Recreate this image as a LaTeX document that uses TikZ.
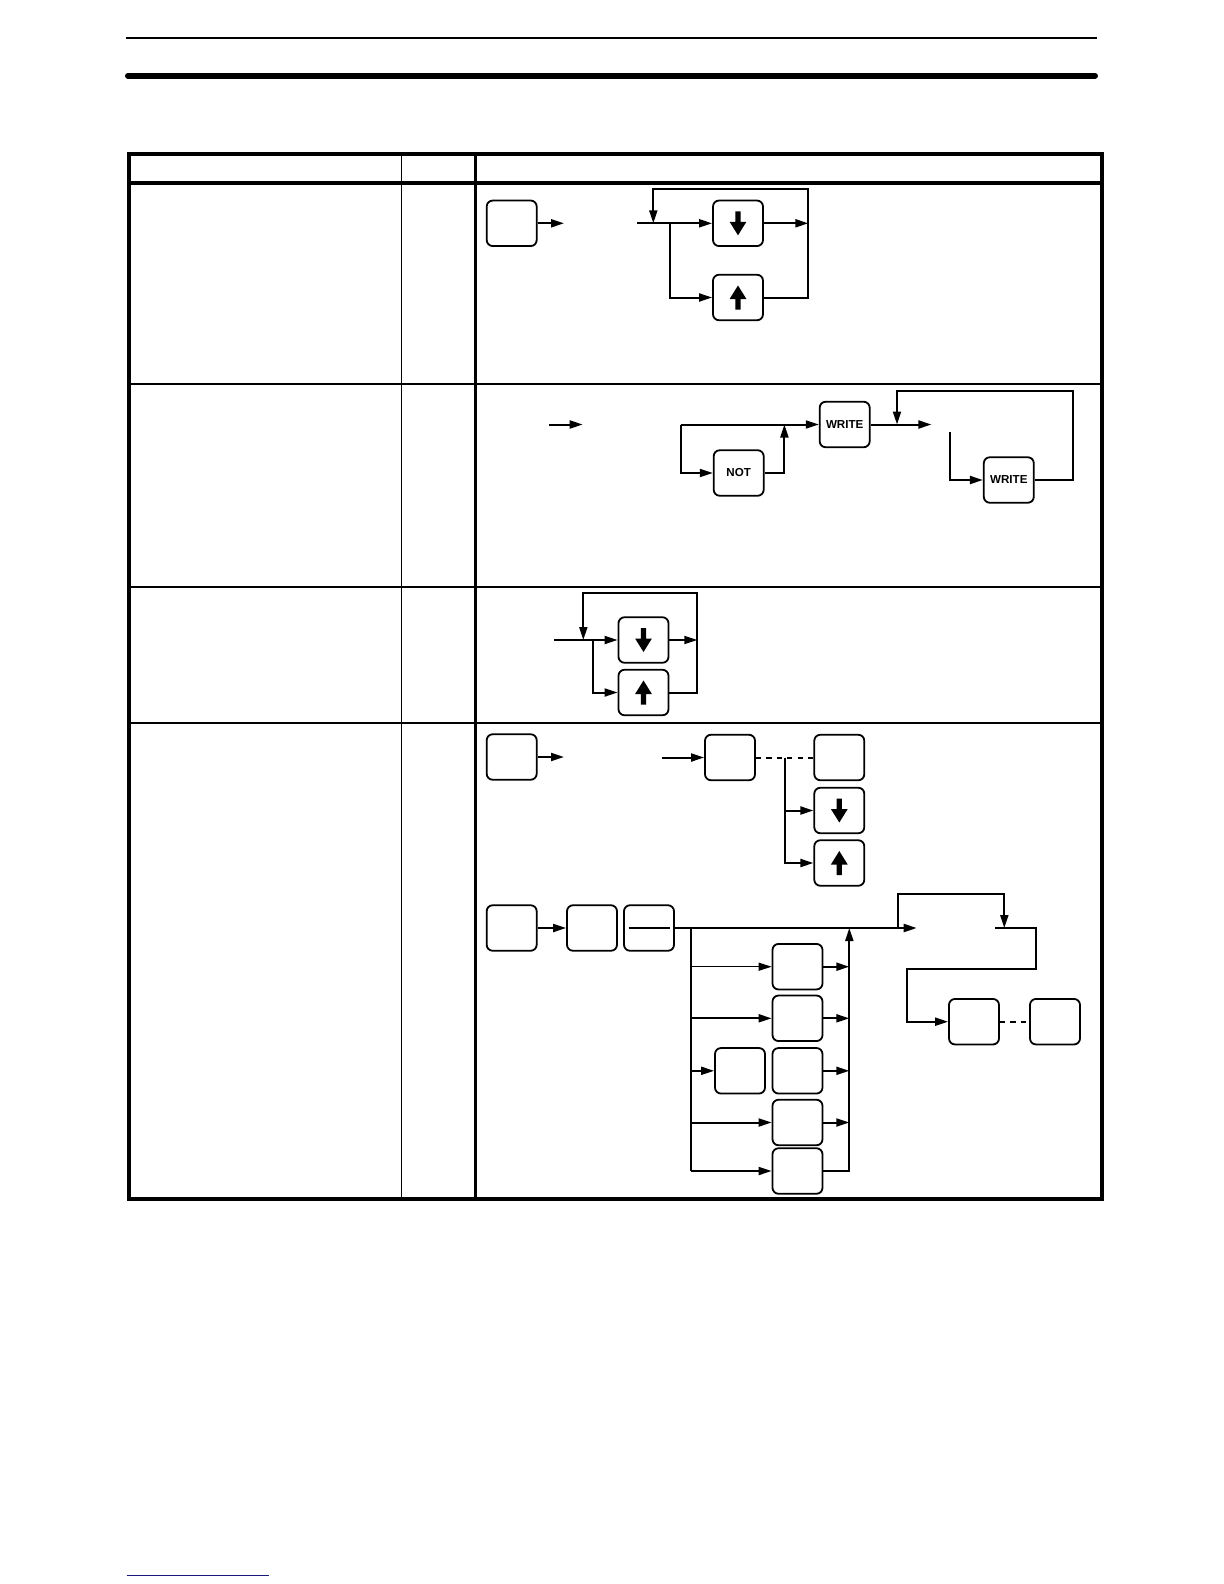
\documentclass[tikz,border=0pt]{standalone}
\usepackage{fontspec}
\setmainfont{Liberation Sans}
\usepackage{xcolor}
\usetikzlibrary{arrows.meta,positioning}
\definecolor{navy}{RGB}{25,25,120}
\tikzset{
  key/.style={draw, line width=0.9pt, rounded corners=3pt, minimum width=25pt, minimum height=22.75pt, inner sep=0pt, font=\fontsize{5.8}{6}\selectfont\bfseries},
  keydn/.style={key, path picture={\fill[sharp corners, shift={(path picture bounding box.center)}] (-1.3pt,6pt) -- (1.3pt,6pt) -- (1.3pt,0.75pt) -- (4.2pt,0.75pt) -- (0pt,-6pt) -- (-4.2pt,0.75pt) -- (-1.3pt,0.75pt) -- cycle;}},
  keyup/.style={key, path picture={\fill[sharp corners, shift={(path picture bounding box.center)}] (-1.3pt,-6pt) -- (1.3pt,-6pt) -- (1.3pt,-0.75pt) -- (4.2pt,-0.75pt) -- (0pt,6pt) -- (-4.2pt,-0.75pt) -- (-1.3pt,-0.75pt) -- cycle;}},
  keybar/.style={key, path picture={\draw[sharp corners, line width=0.9pt, shift={(path picture bounding box.center)}] (-10.25pt,0pt) -- (10.25pt,0pt);}},
  conn/.style={line width=1pt},
  arr/.style={conn, -{Triangle[length=6.5pt,width=4pt]}},
  dotline/.style={conn, dash pattern=on 2.6pt off 2.6pt}
}
\begin{document}
\begin{tikzpicture}[x=0.5pt, y=-0.5pt]
    \useasboundingbox (0,0) rectangle (1224,1584);
    \draw[line width=0.85pt] (126,37.7) -- (1097,37.7);
    \draw[line width=3pt, line cap=round] (128,75.7) -- (1095,75.7);
    \draw[line width=2pt] (128.7,154.2) rectangle (1101.5,1198.8);
    \draw[line width=1.85pt] (128.7,182.8) -- (1101.5,182.8);
    \draw[line width=0.65pt] (401.7,154.2) -- (401.7,1198.8);
    \draw[line width=1.15pt] (475.5,154.2) -- (475.5,1198.8);
    \draw[line width=0.85pt] (128.7,384.2) -- (1101.5,384.2);
    \draw[line width=1pt] (128.7,587) -- (1101.5,587);
    \draw[line width=0.65pt] (128.7,723) -- (1101.5,723);
    \draw[line width=0.8pt, navy] (126.7,1575.3) -- (269,1575.3);

    % row 1
    \node[key] (r1k) at (511.7,223.3) {};
    \node[keydn] (r1dn) at (738,223.3) {};
    \node[keyup] (r1up) at (738,297.5) {};
    \coordinate (r1a) at (564,223.3);
    \coordinate (r1in) at (637.3,223.3);
    \coordinate (r1br) at (670,223.3);
    \coordinate (r1fb) at (653.3,223.3);
    \coordinate (r1out) at (808.3,223.3);
    \coordinate (r1top) at (808.3,189);
    \draw[arr] (r1k) -- (r1a);
    \draw[arr] (r1in) -- (r1dn);
    \draw[arr] (r1br) |- (r1up);
    \draw[arr] (r1dn) -- (r1out);
    \draw[arr] (r1up) -| (r1top) -| (r1fb);

    % row 2
    \node[key] (not) at (738.7,473) {NOT};
    \node[key] (wr1) at (844.7,424.5) {WRITE};
    \node[key] (wr2) at (1008.8,480) {WRITE};
    \coordinate (r2a) at (549,424.5);
    \coordinate (r2b) at (582.7,424.5);
    \coordinate (r2l) at (680.7,424.5);
    \coordinate (r2up) at (784.4,424.5);
    \coordinate (r2out) at (931.4,424.5);
    \coordinate (r2fb) at (897,424.5);
    \coordinate (r2top) at (1073,390.7);
    \coordinate (r2s) at (950.4,431.7);
    \draw[arr] (r2a) -- (r2b);
    \draw[arr] (r2l) -- (wr1);
    \draw[arr] (r2l) |- (not);
    \draw[arr] (not) -| (r2up);
    \draw[arr] (wr1) -- (r2out);
    \draw[arr] (wr2) -| (r2top) -| (r2fb);
    \draw[arr] (r2s) |- (wr2);

    % row 3
    \node[keydn] (r3dn) at (643.5,640) {};
    \node[keyup] (r3up) at (643.5,692.5) {};
    \coordinate (r3in) at (554.3,640);
    \coordinate (r3br) at (593.3,640);
    \coordinate (r3fb) at (583.3,640);
    \coordinate (r3out) at (697.3,640);
    \coordinate (r3top) at (697.3,592.7);
    \draw[arr] (r3in) -- (r3dn);
    \draw[arr] (r3br) |- (r3up);
    \draw[arr] (r3dn) -- (r3out);
    \draw[arr] (r3up) -| (r3top) -| (r3fb);

    % row 4
    \node[key] (r4a) at (511.7,757) {};
    \node[key] (r4b) at (730,757.5) {};
    \node[key] (r4c) at (839.3,757.5) {};
    \node[keydn] (r4dn) at (839.3,810.5) {};
    \node[keyup] (r4up) at (839.3,863) {};
    \coordinate (r4a1) at (564,757);
    \coordinate (r4b0) at (662.3,757.5);
    \coordinate (r4br) at (785,757.5);
    \draw[arr] (r4a) -- (r4a1);
    \draw[arr] (r4b0) -- (r4b);
    \draw[dotline] (r4b) -- (r4c);
    \draw[arr] (r4br) |- (r4dn);
    \draw[arr] (r4br) |- (r4up);

    \node[key] (r4d) at (511.7,928) {};
    \node[key] (r4e) at (592,928) {};
    \node[keybar] (r4f) at (649,928) {};
    \node[key] (g1) at (797.5,966.7) {};
    \node[key] (g2) at (797.5,1018.3) {};
    \node[key] (g3) at (797.5,1070.8) {};
    \node[key] (h) at (740,1070.8) {};
    \node[key] (g4) at (797.5,1122.5) {};
    \node[key] (g5) at (797.5,1171) {};
    \node[key] (r4i) at (974,1021.7) {};
    \node[key] (r4j) at (1055,1021.7) {};
    \coordinate (r4m) at (916.7,928);
    \coordinate (bl) at (690.7,928);
    \coordinate (blb) at (690.7,1171);
    \coordinate (br) at (849.3,928);
    \coordinate (r4fbL) at (897.7,928);
    \coordinate (r4fbT) at (1004.3,894.3);
    \coordinate (r4s) at (995,928);
    \coordinate (r4r) at (1036,969.3);
    \coordinate (r4l) at (906.7,969.3);
    \draw[arr] (r4d) -- (r4e);
    \draw[arr] (r4f) -- (r4m);
    \draw[conn] (bl) -- (blb);
    \draw[arr, line width=0.6pt] (bl |- g1) -- (g1);
    \draw[arr] (bl |- g2) -- (g2);
    \draw[arr] (bl |- h) -- (h);
    \draw[arr] (bl |- g4) -- (g4);
    \draw[arr] (blb) -- (g5);
    \draw[arr] (g5) -| (br);
    \foreach \g in {g1,g2,g3,g4}
        \draw[arr] (\g) -- (\g -| br);
    \draw[arr] (r4fbL) |- (r4fbT) -- (r4fbT |- r4fbL);
    \draw[arr] (r4s) -| (r4r) -- (r4l) |- (r4i);
    \draw[dotline] (r4i) -- (r4j);
\end{tikzpicture}
\end{document}
